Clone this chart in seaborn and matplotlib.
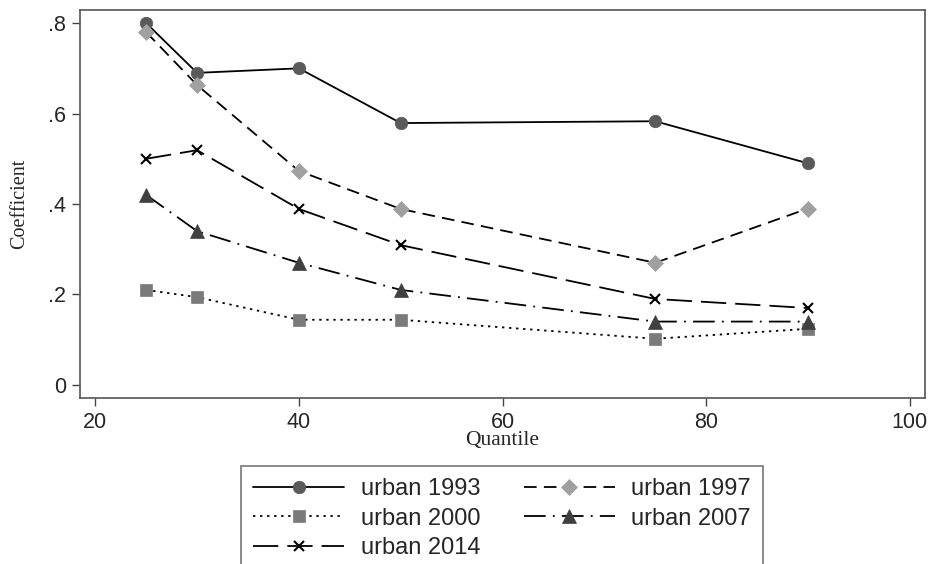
import matplotlib
matplotlib.use("Agg")
import matplotlib.pyplot as plt
import seaborn as sns
import pandas as pd
from matplotlib.lines import Line2D

quantiles = [25, 30, 40, 50, 75, 90]
urban_1993 = [0.80, 0.69, 0.70, 0.579, 0.583, 0.49]
urban_1997 = [0.78, 0.663, 0.473, 0.389, 0.27, 0.39]
urban_2000 = [0.21, 0.194, 0.144, 0.144, 0.102, 0.124]
urban_2007 = [0.42, 0.34, 0.27, 0.21, 0.14, 0.14]
urban_2014 = [0.50, 0.519, 0.389, 0.309, 0.19, 0.17]
labels = ["urban 1993", "urban 1997", "urban 2000", "urban 2007", "urban 2014"]
yticks = [0, 0.2, 0.4, 0.6, 0.8]
ytick_labels = ["0", ".2", ".4", ".6", ".8"]
xticks = [20, 40, 60, 80, 100]

series = [urban_1993, urban_1997, urban_2000, urban_2007, urban_2014]
df = pd.DataFrame({
    "Quantile": quantiles * len(series),
    "Coefficient": [v for s in series for v in s],
    "series": [lab for lab in labels for _ in quantiles],
})

styles = {
    "urban 1993": dict(ls="-", marker="o", mfc="#5a5a5a", ms=9),
    "urban 1997": dict(ls=(0, (7, 4)), marker="D", mfc="#a0a0a0", ms=8),
    "urban 2000": dict(ls=(0, (1.3, 2.6)), marker="s", mfc="#7a7a7a", ms=8.5),
    "urban 2007": dict(ls=(0, (12, 4, 1, 4)), marker="^", mfc="#404040", ms=9.5),
    "urban 2014": dict(ls=(0, (14, 5)), marker="x", mfc="black", ms=6.5),
}

sns.set_style("white")
plt.rcParams["font.family"] = ["Liberation Sans", "DejaVu Sans"]

fig = plt.figure(figsize=(9.31, 5.64), dpi=100)
ax = fig.add_axes([80 / 931, 1 - 398 / 564, 845 / 931, 388 / 564])

handles = {}
for lab in labels:
    st = styles[lab]
    sub = df[df["series"] == lab]
    mec = st["mfc"] if st["marker"] != "x" else "black"
    mew = 1.5 if st["marker"] == "x" else 0.5
    sns.lineplot(data=sub, x="Quantile", y="Coefficient", ax=ax, color="black",
                 linewidth=1.3, linestyle=st["ls"], marker=st["marker"],
                 markerfacecolor=st["mfc"], markeredgecolor=mec,
                 markeredgewidth=mew, markersize=st["ms"], legend=False)
    handles[lab] = Line2D([0], [0], color="black", lw=1.3, linestyle=st["ls"],
                          marker=st["marker"], markerfacecolor=st["mfc"],
                          markeredgecolor=mec, markeredgewidth=mew,
                          markersize=st["ms"])

ax.set_xlim(18.5, 101.5)
ax.set_ylim(-0.029, 0.829)
ax.set_xticks(xticks)
ax.set_yticks(yticks)
ax.set_yticklabels(ytick_labels)
ax.tick_params(axis="both", direction="out", length=6, width=1, color="#444444",
               labelsize=15.5, bottom=True, left=True, pad=4)
for sp in ax.spines.values():
    sp.set_color("#555555")
    sp.set_linewidth(1.2)
ax.set_xlabel("Quantile", family=["Liberation Serif"], fontsize=15.5, labelpad=-1)
ax.set_ylabel("Coefficient", family=["Liberation Serif"], fontsize=14.5, labelpad=14)

# row-wise order as in reference (matplotlib fills columns first)
order = ["urban 1993", "urban 2000", "urban 2014", "urban 1997", "urban 2007"]
leg = fig.legend([handles[k] for k in order], order, ncol=2, loc="upper center",
                 bbox_to_anchor=(502 / 931, 1 - 466 / 564), fontsize=17,
                 frameon=True, fancybox=False, edgecolor="#555555",
                 handlelength=3.85, handletextpad=0.7, columnspacing=1.85,
                 labelspacing=0.33, borderpad=0.5, borderaxespad=0)
leg.get_frame().set_linewidth(1.2)

fig.savefig("out.png", dpi=100)
